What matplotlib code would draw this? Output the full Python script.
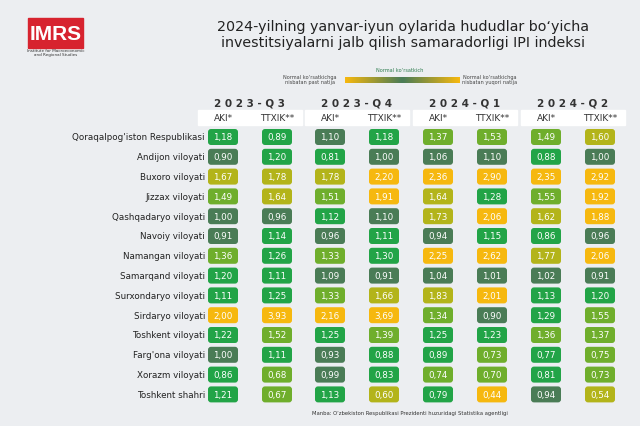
import matplotlib
matplotlib.use("Agg")
import matplotlib.pyplot as plt
from matplotlib.patches import FancyBboxPatch, Rectangle
from matplotlib.colors import LinearSegmentedColormap
import numpy as np

regions = ["Qoraqalpog'iston Respublikasi", "Andijon viloyati", "Buxoro viloyati", "Jizzax viloyati",
           "Qashqadaryo viloyati", "Navoiy viloyati", "Namangan viloyati", "Samarqand viloyati",
           "Surxondaryo viloyati", "Sirdaryo viloyati", "Toshkent viloyati", "Farg'ona viloyati",
           "Xorazm viloyati", "Toshkent shahri"]
quarters = ["2023-Q3", "2023-Q4", "2024-Q1", "2024-Q2"]
subcols = ["AKI*", "TTXIK**"]
q3_aki = [1.18,0.90,1.67,1.49,1.00,0.91,1.36,1.20,1.11,2.00,1.22,1.00,0.86,1.21]
q3_tt  = [0.89,1.20,1.78,1.64,0.96,1.14,1.26,1.11,1.25,3.93,1.52,1.11,0.68,0.67]
q4_aki = [1.10,0.81,1.78,1.51,1.12,0.96,1.33,1.09,1.33,2.16,1.25,0.93,0.99,1.13]
q4_tt  = [1.18,1.00,2.20,1.91,1.10,1.11,1.30,0.91,1.66,3.69,1.39,0.88,0.83,0.60]
q1_aki = [1.37,1.06,2.36,1.64,1.73,0.94,2.25,1.04,1.83,1.34,1.25,0.89,0.74,0.79]
q1_tt  = [1.53,1.10,2.90,1.28,2.06,1.15,2.62,1.01,2.01,0.90,1.23,0.73,0.70,0.44]
q2_aki = [1.49,0.88,2.35,1.55,1.62,0.86,1.77,1.02,1.13,1.29,1.36,0.77,0.81,0.94]
q2_tt  = [1.60,1.00,2.92,1.92,1.88,0.96,2.06,0.91,1.20,1.55,1.37,0.75,0.73,0.54]
cols = [q3_aki, q3_tt, q4_aki, q4_tt, q1_aki, q1_tt, q2_aki, q2_tt]

def color(v):
    if abs(v - 1) <= 0.105:
        return "#4a7c56"
    d = abs(np.log(v))
    if d <= 0.27: return "#22a447"
    if d <= 0.45: return "#6fae2c"
    if d <= 0.62: return "#b3b41a"
    return "#f6b80f"

fig = plt.figure(figsize=(6.4, 4.27), dpi=100)
fig.patch.set_facecolor("#eceef1")
ax = fig.add_axes([0, 0, 1, 1])
ax.set_xlim(0, 640); ax.set_ylim(427, 0); ax.axis("off")

ax.add_patch(Rectangle((28, 19), 55, 30, color="#d7232f"))
ax.text(55.5, 34, "IMRS", color="white", fontsize=15, fontweight="bold", ha="center", va="center", family="Liberation Sans")
ax.text(55.5, 53, "Institute for Macroeconomic\nand Regional Studies", fontsize=3, ha="center", va="center", color="#333")

ax.text(403, 35, "2024-yilning yanvar-iyun oylarida hududlar bo\u2018yicha\ninvestitsiyalarni jalb qilish samaradorligi IPI indeksi",
        ha="center", va="center", fontsize=10.3, color="#222", linespacing=1.15)

grad = np.concatenate([np.linspace(0, 1, 50), np.linspace(1, 0, 50)])
cm = LinearSegmentedColormap.from_list("g", ["#f6b80f", "#4a7c56"])
ax.imshow(grad[None, :], cmap=cm, extent=(345, 460, 84, 78), aspect="auto", zorder=2)
ax.text(310, 80, "Normal ko\u2018rsatkichga\nnisbatan past natija", fontsize=3.6, ha="center", va="center", color="#444")
ax.text(400, 71, "Normal ko\u2018rsatkich", fontsize=3.6, ha="center", va="center", color="#2e7d4f")
ax.text(490, 80, "Normal ko\u2018rsatkichga\nnisbatan yuqori natija", fontsize=3.6, ha="center", va="center", color="#444")

xs = [223, 277, 330, 384, 438, 492, 546, 600]
for qi, q in enumerate(quarters):
    xc = (xs[2*qi] + xs[2*qi+1]) / 2
    ax.text(xc, 103, " ".join(q), ha="center", va="center", fontsize=7.5, fontweight="semibold", color="#333")
    ax.add_patch(Rectangle((xc - 52, 111), 104, 15, color="white", zorder=1))
    for si, s in enumerate(subcols):
        ax.text(xs[2*qi+si], 118.5, s, ha="center", va="center", fontsize=6.5, color="#333", zorder=2)

y0, dy = 138, 19.8
for ri, r in enumerate(regions):
    y = y0 + ri * dy
    ax.text(205, y, r, ha="right", va="center", fontsize=6.3, color="#222")
    for ci, col in enumerate(cols):
        v = col[ri]
        ax.add_patch(FancyBboxPatch((xs[ci] - 15, y - 8), 30, 16, boxstyle="round,pad=0,rounding_size=3",
                                    fc=color(v), ec="none", zorder=2))
        ax.text(xs[ci], y, f"{v:.2f}".replace(".", ","), ha="center", va="center", fontsize=6.3,
                color="white", zorder=3)

ax.text(410, 414, "Manba: O\u2018zbekiston Respublikasi Prezidenti huzuridagi Statistika agentligi",
        ha="center", va="center", fontsize=3.8, color="#333")
fig.savefig("out.png", dpi=100, facecolor=fig.get_facecolor())
